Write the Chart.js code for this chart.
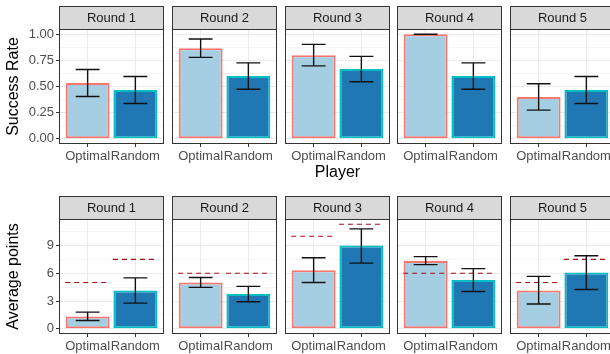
<!DOCTYPE html>
<html>
<head>
<meta charset="utf-8">
<script src="https://cdn.jsdelivr.net/npm/chart.js@4/dist/chart.umd.min.js"></script>
<style>
  html, body { margin: 0; padding: 0; background: #ffffff; }
  #fig { position: relative; width: 610px; height: 354px; overflow: hidden; background: #ffffff; }
  #fig canvas { position: absolute; }
</style>
</head>
<body>
<div id="fig"></div>
<script>
// ---- data ----
const rounds  = ['Round 1', 'Round 2', 'Round 3', 'Round 4', 'Round 5'];
const players = ['Optimal', 'Random'];

// success rate (mean and ± 1 SE bounds) per round
const successOptimal   = [0.533, 0.867, 0.800, 1.000, 0.400];
const successOptimalLo = [0.404, 0.779, 0.697, 1.000, 0.274];
const successOptimalHi = [0.662, 0.955, 0.903, 1.000, 0.526];
const successRandom    = [0.467, 0.600, 0.667, 0.600, 0.467];
const successRandomLo  = [0.338, 0.474, 0.545, 0.474, 0.338];
const successRandomHi  = [0.596, 0.726, 0.788, 0.726, 0.596];

// average points (mean and ± 1 SE bounds) per round
const pointsOptimal   = [1.33, 5.00, 6.33, 7.33, 4.13];
const pointsOptimalLo = [0.90, 4.47, 5.00, 6.93, 2.67];
const pointsOptimalHi = [1.80, 5.55, 7.67, 7.80, 5.66];
const pointsRandom    = [4.13, 3.75, 9.00, 5.27, 6.07];
const pointsRandomLo  = [2.77, 2.92, 7.10, 4.03, 4.25];
const pointsRandomHi  = [5.50, 4.58, 10.80, 6.50, 7.90];

// expected points (dashed reference lines)
const expectedOptimal = [5, 6, 10, 6, 5];
const expectedRandom  = [7.5, 6, 11.3, 6, 7.5];

// axis ticks
const successTicks = [0, 0.25, 0.5, 0.75, 1];
const pointsTicks  = [0, 3, 6, 9];

// ---- styling ----
const FONT = "'Liberation Sans', Arial, Helvetica, sans-serif";
const FILL   = ['#A6CEE3', '#1F78B4'];
const BORDER = ['#F8766D', '#00BFC4'];
const GRID = '#EBEBEB';
const INK  = '#333333';

Chart.defaults.font.family = FONT;
Chart.defaults.color = '#4D4D4D';

const panelLefts = [59, 172, 285, 397, 510];
const panelW = 105, panelH = 115, stripH = 23, xAxisH = 38, yAxisW = 59;

function minorTicks(majors, max) {
  const step = majors[1] - majors[0];
  const out = [];
  for (let i = 0; i < majors.length; i++) {
    const m = majors[i] + step / 2;
    if (m < max) out.push(m);
  }
  return out;
}

const rowsCfg = [
  {
    stripTop: 6, min: -0.05, max: 1.05, majors: successTicks,
    fmt: v => v.toFixed(2), yTitle: 'Success Rate', xTitle: 'Player',
    mean: [successOptimal, successRandom],
    lo: [successOptimalLo, successRandomLo],
    hi: [successOptimalHi, successRandomHi],
    ref: null
  },
  {
    stripTop: 196, min: -0.565, max: 11.865, majors: pointsTicks,
    fmt: v => String(v), yTitle: 'Average points', xTitle: null,
    mean: [pointsOptimal, pointsRandom],
    lo: [pointsOptimalLo, pointsRandomLo],
    hi: [pointsOptimalHi, pointsRandomHi],
    ref: [expectedOptimal, expectedRandom]
  }
];

// strips, panel frame, error bars and reference segments
const facetPlugin = {
  id: 'facet',
  beforeDraw(chart, args, o) {
    const { ctx, chartArea: a } = chart;
    ctx.save();
    ctx.fillStyle = '#ffffff';
    ctx.fillRect(a.left, a.top, a.right - a.left, a.bottom - a.top);
    ctx.fillStyle = '#D9D9D9';
    ctx.fillRect(a.left, a.top - stripH, a.right - a.left, stripH);
    ctx.strokeStyle = INK;
    ctx.lineWidth = 1;
    ctx.strokeRect(a.left + 0.5, a.top - stripH + 0.5, a.right - a.left - 1, stripH);
    ctx.fillStyle = '#1A1A1A';
    ctx.font = '13px ' + FONT;
    ctx.textAlign = 'center';
    ctx.textBaseline = 'middle';
    ctx.fillText(o.label, (a.left + a.right) / 2, a.top - stripH / 2 + 0.5);
    ctx.restore();
  },
  afterDatasetsDraw(chart, args, o) {
    const { ctx } = chart;
    const xs = chart.scales.x, ys = chart.scales.y;
    ctx.save();
    if (o.ref) {
      ctx.strokeStyle = '#A00F12';
      ctx.lineWidth = 1.2;
      ctx.setLineDash([5, 4]);
      o.ref.forEach((v, i) => {
        const x0 = xs.getPixelForValue(i + 1 - 0.47);
        const x1 = xs.getPixelForValue(i + 1 + 0.43);
        const y = ys.getPixelForValue(v);
        ctx.beginPath();
        ctx.moveTo(x0, y);
        ctx.lineTo(x1, y);
        ctx.stroke();
      });
      ctx.setLineDash([]);
    }
    ctx.strokeStyle = '#111111';
    ctx.lineWidth = 1.4;
    o.lo.forEach((lo, i) => {
      const hi = o.hi[i];
      const xc = xs.getPixelForValue(i + 1);
      const xl = xs.getPixelForValue(i + 1 - 0.25);
      const xr = xs.getPixelForValue(i + 1 + 0.25);
      const yl = ys.getPixelForValue(lo);
      const yh = ys.getPixelForValue(hi);
      ctx.beginPath();
      ctx.moveTo(xc, yl); ctx.lineTo(xc, yh);
      ctx.moveTo(xl, yl); ctx.lineTo(xr, yl);
      ctx.moveTo(xl, yh); ctx.lineTo(xr, yh);
      ctx.stroke();
    });
    ctx.restore();
  },
  afterDraw(chart) {
    const { ctx, chartArea: a } = chart;
    ctx.save();
    ctx.strokeStyle = INK;
    ctx.lineWidth = 1;
    ctx.strokeRect(a.left + 0.5, a.top + 0.5, a.right - a.left - 1, a.bottom - a.top - 1);
    ctx.restore();
  }
};

const fig = document.getElementById('fig');

rowsCfg.forEach((row, r) => {
  const minors = minorTicks(row.majors, row.max);
  const allTicks = row.majors.concat(minors).sort((a, b) => a - b);
  const isMajor = v => row.majors.some(m => Math.abs(m - v) < 1e-9);

  rounds.forEach((round, c) => {
    const first = c === 0;
    const leftW = first ? yAxisW : 0;
    const canvas = document.createElement('canvas');
    canvas.width = leftW + panelW;
    canvas.height = stripH + panelH + xAxisH;
    canvas.style.left = (panelLefts[c] - leftW) + 'px';
    canvas.style.top = row.stripTop + 'px';
    fig.appendChild(canvas);

    const lo = [row.lo[0][c], row.lo[1][c]];
    const hi = [row.hi[0][c], row.hi[1][c]];
    const ref = row.ref ? [row.ref[0][c], row.ref[1][c]] : null;
    const showXTitle = !!row.xTitle && c === 2;

    new Chart(canvas, {
      type: 'bar',
      data: {
        datasets: [{
          data: players.map((p, i) => ({ x: i + 1, y: row.mean[i][c] })),
          backgroundColor: FILL,
          borderColor: BORDER,
          borderWidth: 2,
          borderSkipped: false,
          barPercentage: 0.92,
          categoryPercentage: 1.0
        }]
      },
      options: {
        responsive: false,
        animation: false,
        devicePixelRatio: 1,
        events: [],
        layout: { padding: { top: stripH, left: 0, right: 0, bottom: 0 } },
        plugins: {
          legend: { display: false },
          tooltip: { enabled: false },
          facet: { label: round, lo: lo, hi: hi, ref: ref }
        },
        scales: {
          x: {
            type: 'linear',
            min: 0.4, max: 2.6,
            offset: false,
            afterBuildTicks: s => { s.ticks = players.map((p, i) => ({ value: i + 1 })); },
            afterFit: s => { s.height = xAxisH; },
            grid: {
              offset: false,
              color: GRID, lineWidth: 1, drawTicks: true,
              tickLength: 3, tickColor: INK, tickWidth: 1
            },
            border: { display: false },
            ticks: {
              padding: 2,
              color: '#4D4D4D',
              font: { size: 13, family: FONT },
              maxRotation: 0,
              autoSkip: false,
              callback: v => players[Math.round(v) - 1]
            },
            title: {
              display: showXTitle,
              text: row.xTitle || '',
              color: '#000000',
              font: { size: 16, family: FONT },
              padding: { top: 0, bottom: 0 }
            }
          },
          y: {
            type: 'linear',
            min: row.min, max: row.max,
            afterBuildTicks: s => { s.ticks = allTicks.map(v => ({ value: v })); },
            afterFit: s => { s.width = leftW; },
            grid: {
              color: GRID,
              lineWidth: ctx => (ctx.tick && isMajor(ctx.tick.value)) ? 1 : 0.5,
              drawTicks: first,
              tickLength: 3,
              tickWidth: 1,
              tickColor: ctx => (ctx.tick && isMajor(ctx.tick.value)) ? INK : 'rgba(0,0,0,0)'
            },
            border: { display: false },
            ticks: {
              display: first,
              padding: 2,
              color: '#4D4D4D',
              font: { size: 13, family: FONT },
              autoSkip: false,
              callback: v => isMajor(v) ? row.fmt(v) : ''
            },
            title: {
              display: first,
              text: row.yTitle,
              color: '#000000',
              font: { size: 16, family: FONT },
              padding: { top: 4, bottom: 0 }
            }
          }
        }
      },
      plugins: [facetPlugin]
    });
  });
});
</script>
</body>
</html>
